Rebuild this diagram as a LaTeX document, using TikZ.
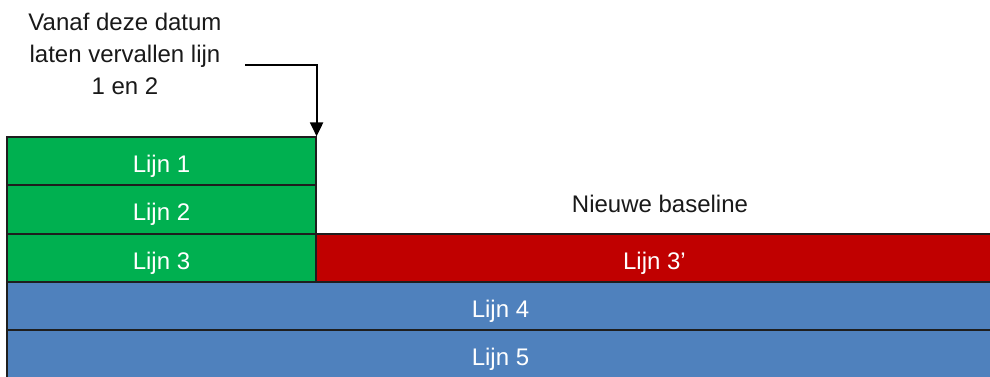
\documentclass[tikz,border=0pt]{standalone}
\usepackage{fontspec}
\setmainfont{Liberation Sans}
\usetikzlibrary{arrows.meta}
\definecolor{lgreen}{HTML}{00B050}
\definecolor{lred}{HTML}{C00000}
\definecolor{lblue}{HTML}{4F81BD}
\definecolor{edge}{HTML}{1E1E1E}
\begin{document}
\begin{tikzpicture}[x=1pt,y=-1pt,
  bar/.style={draw=edge, line width=1.2pt, text=white, font=\fontsize{24}{28}\selectfont, inner sep=0pt, anchor=center, text height=22pt, text depth=0pt},
  plain/.style={text=black!90, font=\fontsize{24}{32}\selectfont, inner sep=0pt, align=center}
]
\useasboundingbox (0,0) rectangle (990,376);
\node[bar, fill=lblue, minimum width=987pt, minimum height=48pt] (l5) at (500.5,354) {Lijn 5};
\node[bar, fill=lblue, minimum width=987pt, minimum height=48pt] (l4) at (500.5,306) {Lijn 4};
\node[bar, fill=lred, minimum width=677pt, minimum height=48pt] (l3b) at (654.5,258) {Lijn 3’};
\node[bar, fill=lgreen, minimum width=309pt, minimum height=48pt] (l3) at (161.5,258) {Lijn 3};
\node[bar, fill=lgreen, minimum width=309pt, minimum height=49pt] (l2) at (161.5,209.5) {Lijn 2};
\node[bar, fill=lgreen, minimum width=309pt, minimum height=48pt] (l1) at (161.5,161) {Lijn 1};
\node[plain, anchor=base] (nb) at (660,212) {Nieuwe baseline};
\node[plain] (ann) at (125,54) {Vanaf deze datum\\laten vervallen lijn\\1 en 2};
\coordinate (s) at (245,65);
\draw[line width=2pt, -{Triangle[length=14pt,width=13pt]}] (s) -| (l1.north east);
\end{tikzpicture}
\end{document}
